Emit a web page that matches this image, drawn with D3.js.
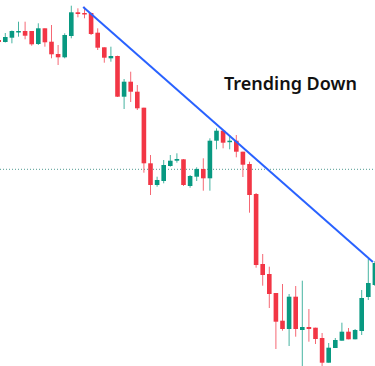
<!DOCTYPE html>
<html>
<head>
<meta charset="utf-8">
<script src="https://cdn.jsdelivr.net/npm/d3@7"></script>
<style>
  html, body { margin: 0; padding: 0; background: #fff; }
  svg { display: block; }
</style>
</head>
<body>
<svg id="chart" width="375" height="366"></svg>
<script>
// candle index -1 is cut by the left edge, 56 by the right edge
var idx = d3.range(-1, 57);
var open  = [326, 324, 328.3, 334, 335, 335, 322, 337.7, 324.3, 312, 308.7, 330, 353.7, 353, 353, 333.3, 318.7, 307.7, 310, 269.3, 284.3, 274.3, 258.3, 202.7, 181, 185, 200, 205.3, 206.7, 180, 189.3, 197, 187.7, 225.3, 235.3, 224, 225.3, 214.3, 202, 172, 102, 92, 73, 45.3, 37, 69.3, 36, 39, 38.3, 28, 3.3, 18, 25.3, 34.3, 26.7, 35, 69, 81];
var high  = [327, 333, 335.5, 344.3, 344.3, 335, 342.7, 337.7, 341, 321, 332.7, 360.3, 357.7, 359.3, 353.3, 337.7, 318.7, 319.3, 310.3, 287, 294.3, 281, 258.3, 211, 189.3, 206, 211, 212.7, 207, 191, 198.7, 207.7, 227.7, 237.7, 235.3, 231, 231, 214.3, 204.3, 173, 112, 99.3, 73, 82, 72, 80, 85.3, 57, 38.3, 33, 23, 28, 43.3, 38, 37, 76, 107, 105];
var low   = [323, 323.5, 322.7, 329.3, 326.7, 320.3, 321, 319.3, 307.7, 301, 307.7, 327.7, 348.7, 347.7, 331, 316, 303.3, 304.3, 269, 257, 264, 256, 193.3, 171, 179.3, 182.7, 199.3, 203.3, 180, 178.3, 185, 175.3, 175.3, 216.7, 217.7, 216.7, 208.7, 189, 153.3, 98.3, 80.3, 58, 17, 35.3, 20, 29.3, -2, 24.3, 22, 0, 3.3, 18, 25.3, 26.7, 26.7, 31, 66, 80];
var close = [324, 329, 335, 335, 330.3, 321.7, 337.7, 323.7, 311.7, 308.7, 331, 353.7, 352, 352, 332, 318.3, 308.3, 310, 269.3, 284.3, 274.3, 257.7, 202.7, 181, 186, 201, 205.3, 207, 181, 190, 197, 187.7, 225.3, 235.3, 223.3, 225.3, 214.3, 201.3, 171, 101, 91, 72, 44.3, 37, 69.3, 37, 39, 37, 27, 3.3, 18.3, 26, 34.3, 26.7, 36, 68, 83, 103];

// trend line touch points (candle index, level) and the dotted level
var trendIdx = [11.8, 55.7];
var trendLvl = [359, 104];
var supportLvl = 196.7;
var label = "Trending Down";

var upColor = "#089981",
    downColor = "#F23645";

var svg = d3.select("svg#chart"),
    width = +svg.attr("width"),
    height = +svg.attr("height");

var x = d3.scaleLinear().domain([0, 56]).range([5.3, 374.9]);
var y = d3.scaleLinear().domain([0, 366]).range([366, 0]);
var bodyW = 4.6;

var candles = idx.map(function (d, i) {
    return {i: d, o: open[i], h: high[i], l: low[i], c: close[i]};
});

// dotted level
svg.append("line")
    .attr("x1", 0)
    .attr("x2", width)
    .attr("y1", y(supportLvl))
    .attr("y2", y(supportLvl))
    .attr("stroke", "#4f9a90")
    .attr("stroke-width", 1)
    .attr("stroke-dasharray", "1,2");

var g = svg.append("g");

g.selectAll("line.wick")
    .data(candles)
    .enter().append("line")
    .attr("class", "wick")
    .attr("x1", function (d) { return x(d.i); })
    .attr("x2", function (d) { return x(d.i); })
    .attr("y1", function (d) { return y(d.h); })
    .attr("y2", function (d) { return y(d.l); })
    .attr("stroke", function (d) { return d.c >= d.o ? upColor : downColor; })
    .attr("stroke-opacity", 0.75)
    .attr("stroke-width", 1);

g.selectAll("rect.body")
    .data(candles)
    .enter().append("rect")
    .attr("class", "body")
    .attr("x", function (d) { return x(d.i) - bodyW / 2; })
    .attr("width", bodyW)
    .attr("y", function (d) { return y(Math.max(d.o, d.c)); })
    .attr("height", function (d) { return Math.max(1.5, Math.abs(y(d.o) - y(d.c))); })
    .attr("fill", function (d) { return d.c >= d.o ? upColor : downColor; });

// trend line
svg.append("path")
    .datum(d3.zip(trendIdx, trendLvl))
    .attr("fill", "none")
    .attr("stroke", "#2962FF")
    .attr("stroke-width", 2)
    .attr("d", d3.line()
        .x(function (d) { return x(d[0]); })
        .y(function (d) { return y(d[1]); }));

svg.append("text")
    .attr("x", 290.5)
    .attr("y", 90)
    .attr("text-anchor", "middle")
    .attr("font-family", "Noto Sans, sans-serif")
    .attr("font-size", 18)
    .attr("font-weight", 600)
    .attr("fill", "#111")
    .text(label);
</script>
</body>
</html>
